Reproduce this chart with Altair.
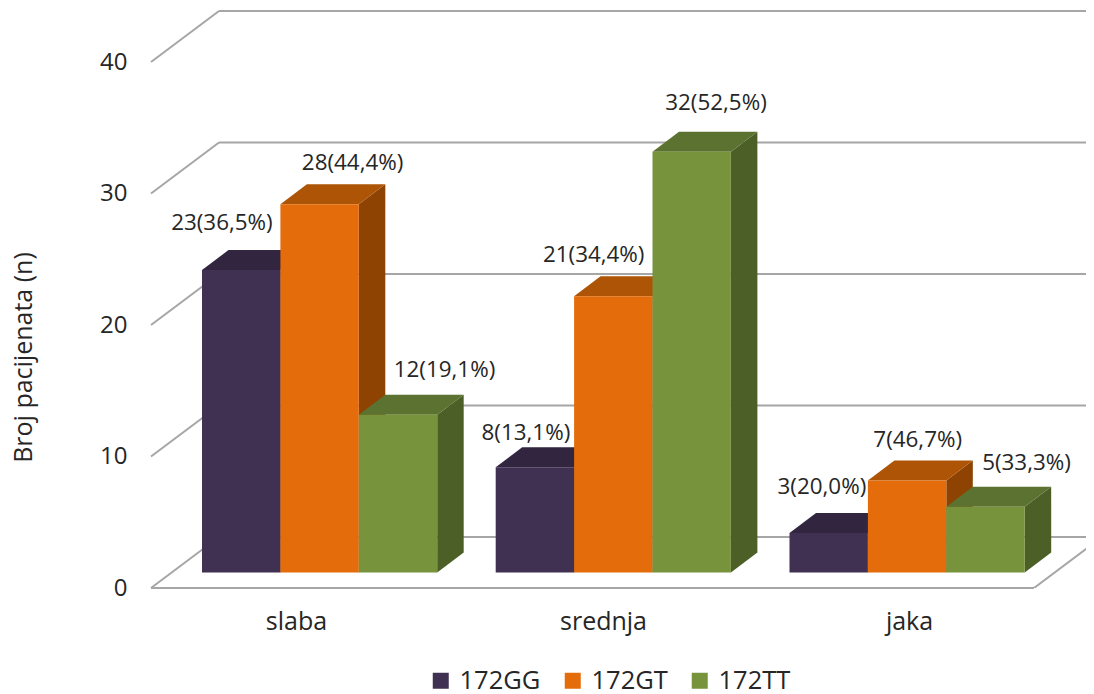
import altair as alt
import pandas as pd

# ---- chart values ----
categories = ["slaba", "srednja", "jaka"]
series = ["172GG", "172GT", "172TT"]
counts_gg = [23, 8, 3]
counts_gt = [28, 21, 7]
counts_tt = [12, 32, 5]
pct_gg = ["36,5", "13,1", "20,0"]
pct_gt = ["44,4", "34,4", "46,7"]
pct_tt = ["19,1", "52,5", "33,3"]
y_ticks = [0, 10, 20, 30, 40]

# ---- styling ----
front_colors = ["#403152", "#E46C0A", "#77933C"]
top_colors = ["#32253F", "#AE5406", "#5B7230"]
side_colors = ["#2B2038", "#8E4303", "#4C5F27"]
grid_color = "#A6A6A6"
text_color = "#262626"
font = "Open Sans"

# ---- layout of the oblique projection (x scale runs in page pixels) ----
LEFT, RIGHT = 137, 1086
TOP, FLOOR = 8, 588
PX_PER_UNIT = 13.15
def u(px):
    return px / PX_PER_UNIT
W, H = RIGHT - LEFT, FLOOR - TOP
Y_MAX = u(H)
BASE = u(FLOOR - 572.5)          # bars stand a little behind the front floor edge
BAR_W = 78.4
DEPTH_X, DEPTH_Y = 26.5, u(20)
GROUP_X = [202, 495.7, 789.5]
WALL_X0, WALL_X1 = 219, RIGHT
FRONT_X0, FRONT_X1 = 151, 1034
WALL_Y = u(51)
LABEL_X = [296, 603, 909]

# offsets of the data labels from the top-centre of each bar's front face (px)
label_off = {
    0: [(-19.3, 47), (-9, 34), (-6.8, 46)],
    1: [(33, 41), (-19.6, 41), (10.6, 40)],
    2: [(46.5, 45), (24.3, 49), (41, 44)],
}

label_map = " : ".join(f"datum.value == {p} ? '{c}'" for p, c in zip(LABEL_X[:-1], categories[:-1])) + f" : '{categories[-1]}'"
x_axis = alt.Axis(values=LABEL_X, labelExpr=label_map, title=None, domain=False, ticks=False, grid=False,
                  labelFont=font, labelFontSize=25, labelColor=text_color, labelPadding=21)
y_axis = alt.Axis(values=y_ticks, domain=False, ticks=False, grid=False, labelPadding=10,
                  labelFont=font, labelFontSize=24, labelColor=text_color,
                  title="Broj pacijenata (n)", titleFont=font, titleFontSize=25, titleFontWeight="normal",
                  titleColor=text_color, titleX=-101, titleY=349, titleAngle=270)

x_scale = alt.Scale(domain=[LEFT, RIGHT], nice=False, zero=False)
y_scale = alt.Scale(domain=[0, Y_MAX], nice=False, zero=False)
X = lambda: alt.X("x:Q", scale=x_scale, axis=x_axis)
Y = lambda: alt.Y("y:Q", scale=y_scale, axis=y_axis)

# ---- walls and floor ----
wall_rows = [{"x": WALL_X0, "x2": WALL_X1, "y": t + WALL_Y} for t in y_ticks]
front_rows = [{"x": FRONT_X0, "x2": FRONT_X1, "y": 0}]
diag_rows = []
for t in y_ticks:
    diag_rows += [{"k": t, "x": FRONT_X0, "y": t}, {"k": t, "x": WALL_X0, "y": t + WALL_Y}]
right_rows = [{"k": 0, "x": FRONT_X1, "y": 0}, {"k": 0, "x": FRONT_X1 + WALL_X0 - FRONT_X0, "y": WALL_Y}]

base_layer = alt.Chart(pd.DataFrame(wall_rows)).mark_rule(color=grid_color, strokeWidth=2).encode(x=X(), x2="x2:Q", y=Y())
front_line = alt.Chart(pd.DataFrame(front_rows)).mark_rule(color=grid_color, strokeWidth=2).encode(x=X(), x2="x2:Q", y=Y())
diag = alt.Chart(pd.DataFrame(diag_rows)).mark_line(color=grid_color, strokeWidth=2).encode(x=X(), y=Y(), detail="k:N")
right_edge = alt.Chart(pd.DataFrame(right_rows)).mark_line(color=grid_color, strokeWidth=2, clip=True).encode(x=X(), y=Y(), detail="k:N")

layers = [base_layer, front_line, diag, right_edge]

# ---- bars ----
all_counts = [counts_gg, counts_gt, counts_tt]
all_pct = [pct_gg, pct_gt, pct_tt]
label_rows = []
for s, name in enumerate(series):
    front, side, top = [], [], []
    for g, v in enumerate(all_counts[s]):
        x0 = GROUP_X[g] + s * BAR_W
        x1 = x0 + BAR_W
        t = BASE + v
        front.append({"series": name, "x": x0, "x2": x1, "y": BASE, "y2": t})
        side += [
            {"g": g, "x": x1, "y": BASE, "y2": t},
            {"g": g, "x": x1 + DEPTH_X, "y": BASE + DEPTH_Y, "y2": t + DEPTH_Y},
        ]
        top += [
            {"g": g, "y": t, "x": x0, "x2": x1},
            {"g": g, "y": t + DEPTH_Y, "x": x0 + DEPTH_X, "x2": x1 + DEPTH_X},
        ]
        dx, dy = label_off[s][g]
        label_rows.append({"x": (x0 + x1) / 2 + dx, "y": t + u(dy), "t": f"{v}({all_pct[s][g]}%)"})
    layers.append(
        alt.Chart(pd.DataFrame(side)).mark_area(color=side_colors[s]).encode(
            x=X(), y=Y(), y2="y2:Q", detail="g:N"))
    layers.append(
        alt.Chart(pd.DataFrame(top)).mark_area(color=top_colors[s], orient="horizontal").encode(
            y=Y(), x=X(), x2="x2:Q", detail="g:N"))
    layers.append(
        alt.Chart(pd.DataFrame(front)).mark_rect().encode(
            x=X(), x2="x2:Q", y=Y(), y2="y2:Q",
            color=alt.Color("series:N", title=None,
                scale=alt.Scale(domain=series, range=front_colors),
                legend=alt.Legend(orient="none", legendX=291, legendY=660, direction="horizontal",
                    symbolType="square", symbolSize=256, symbolStrokeWidth=0, labelFont=font,
                    labelFontSize=25.5, labelColor=text_color, labelOffset=6, columnPadding=19,
                    labelLimit=200, gridAlign="none"))))

layers.append(
    alt.Chart(pd.DataFrame(label_rows)).mark_text(font=font, fontSize=22.4, color=text_color, baseline="middle", align="center").encode(
        x=X(), y=Y(), text="t:N"))

chart = (
    alt.layer(*layers)
    .properties(width=W, height=H, autosize=alt.AutoSizeParams(type="none"),
                padding={"left": LEFT - 8, "top": 0, "right": 0, "bottom": 105},
                background="white")
    .configure_view(stroke=None)
)
chart.save("out.html", embed_options={"renderer": "svg", "actions": False})
